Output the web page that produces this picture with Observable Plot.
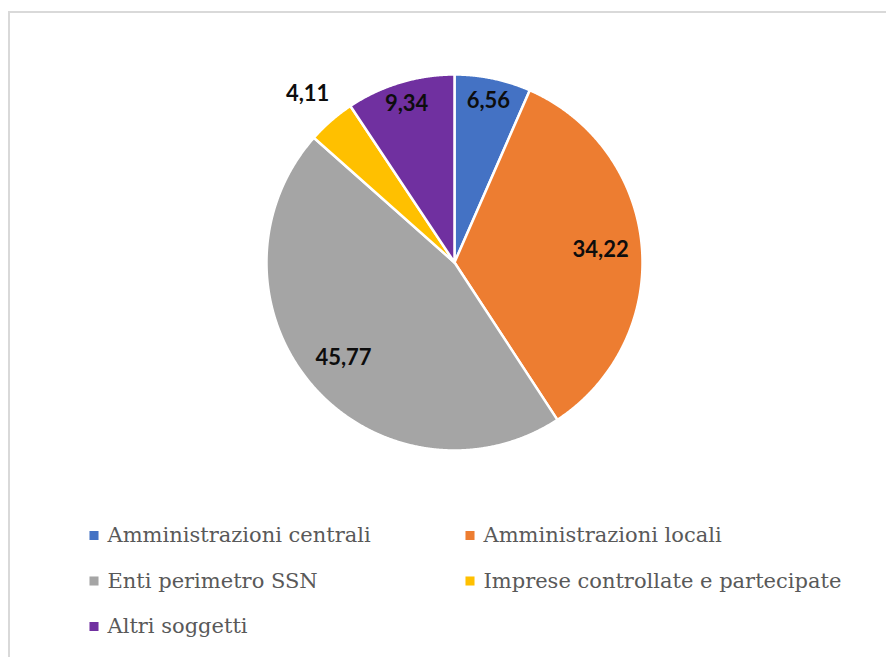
<!DOCTYPE html>
<html>
<head>
<meta charset="utf-8">
<script src="https://cdn.jsdelivr.net/npm/d3@7"></script>
<script src="https://cdn.jsdelivr.net/npm/@observablehq/plot@0.6"></script>
<style>
  html, body { margin: 0; padding: 0; background: #fff; overflow: hidden; }
  #wrap { position: relative; width: 886px; height: 657px; }
  #frame { position: absolute; left: 8px; top: 11px; width: 900px; height: 700px;
           border-left: 2px solid #d9d9d9; border-top: 2px solid #d9d9d9; box-sizing: border-box; }
  #chart { position: absolute; left: 0; top: 0; }
</style>
</head>
<body>
<div id="wrap"><div id="frame"></div><div id="chart"></div></div>
<script>
const categories = ["Amministrazioni centrali", "Amministrazioni locali", "Enti perimetro SSN", "Imprese controllate e partecipate", "Altri soggetti"];
const values = [6.56, 34.22, 45.77, 4.11, 9.34];
const labels = ["6,56", "34,22", "45,77", "4,11", "9,34"];
const colors = ["#4472C4", "#ED7D31", "#A5A5A5", "#FFC000", "#7030A0"];

const W = 886, H = 657;
const cx = 454, cy = 262, R = 188;

const arcs = d3.pie().sort(null).value(d => d)(values);

const slices = arcs.map((a, i) => {
  const pts = [{x: cx, y: cy}];
  const n = Math.max(2, Math.ceil((a.endAngle - a.startAngle) / 0.005));
  for (let k = 0; k <= n; k++) {
    const t = a.startAngle + (a.endAngle - a.startAngle) * k / n;
    pts.push({x: cx + R * Math.sin(t), y: cy - R * Math.cos(t)});
  }
  return {points: pts, color: colors[i]};
});

const labelData = arcs.map((a, i) => {
  const v = values[i];
  const mid = (a.startAngle + a.endAngle) / 2;
  const f = v < 5 ? 1.19 : (v > 20 ? 0.78 : 0.88);
  return {x: cx + R * f * Math.sin(mid), y: cy - R * f * Math.cos(mid), label: labels[i]};
});

const legendData = categories.map((c, i) => ({
  name: c, color: colors[i],
  mx: (i % 2 === 0 ? 93.5 : 469.5),
  tx: (i % 2 === 0 ? 107 : 483),
  y: 535 + Math.floor(i / 2) * 45.5
}));

const marks = [
  ...slices.map(s => Plot.line(s.points, {x: "x", y: "y", fill: s.color, stroke: "white", strokeWidth: 2.5, strokeLinejoin: "round", curve: "linear-closed"})),
  Plot.text(labelData, {x: "x", y: "y", text: "label", fill: "#0d0d0d", fontSize: 22, fontWeight: "bold", fontFamily: "Lato", textAnchor: "middle", lineAnchor: "middle"}),
  Plot.dot(legendData, {x: "mx", y: "y", symbol: "square", r: 5.1, fill: "color", stroke: null}),
  Plot.text(legendData, {x: "tx", y: "y", text: "name", fill: "#595959", fontSize: 21, fontFamily: "DejaVu Serif", textAnchor: "start", lineAnchor: "middle"})
];

const chart = Plot.plot({
  width: W, height: H,
  margin: 0,
  x: {domain: [0, W], range: [0, W], axis: null},
  y: {domain: [0, H], range: [0, H], axis: null},
  color: {type: "identity"},
  style: {background: "transparent", overflow: "visible"},
  marks
});
document.getElementById("chart").appendChild(chart);
</script>
</body>
</html>
